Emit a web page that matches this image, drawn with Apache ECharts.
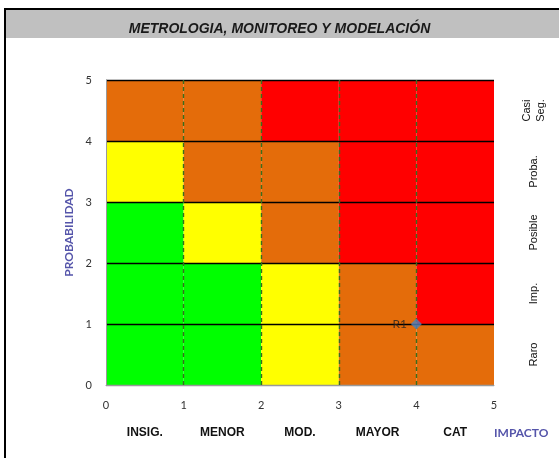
<!DOCTYPE html>
<html><head><meta charset="utf-8">
<script src="https://cdn.jsdelivr.net/npm/echarts@6/dist/echarts.min.js"></script>
<style>html,body{margin:0;padding:0;background:#fff}#c{width:559px;height:458px}</style>
</head><body><div id="c"></div>
<script>
const titleText = 'METROLOGIA, MONITOREO Y MODELACIÓN';
const impactLabels = ['INSIG.', 'MENOR', 'MOD.', 'MAYOR', 'CAT'];
const probLabels = ['Raro', 'Imp.', 'Posible', 'Proba.', 'Casi\nSeg.'];
// rows: probability band 0-1 .. 4-5 ; columns: impact band 0-1 .. 4-5
// 0 = green, 1 = yellow, 2 = orange, 3 = red
const riskMatrix = [
  [0, 0, 1, 2, 2],
  [0, 0, 1, 2, 3],
  [0, 1, 2, 3, 3],
  [1, 2, 2, 3, 3],
  [2, 2, 3, 3, 3]
];
const riskColors = ['#00FF00', '#FFFF00', '#E46C0A', '#FF0000'];
const riskNames = ['R1'];
const riskImpact = [4];
const riskProb = [1];

const cells = [];
riskMatrix.forEach((row, r) => row.forEach((lvl, c) => cells.push([c, r, lvl])));

const chart = echarts.init(document.getElementById('c'), null, {renderer: 'canvas'});
chart.setOption({
  animation: false,
  backgroundColor: '#fff',
  graphic: [
    {type: 'rect', shape: {x: 5, y: 9, width: 600, height: 500}, style: {fill: 'none', stroke: '#000', lineWidth: 2}, z: 0},
    {type: 'rect', shape: {x: 6, y: 10, width: 560, height: 28}, style: {fill: '#C0C0C0', stroke: null}, z: 1},
    {type: 'text', left: 'center', top: 22, style: {text: titleText, font: 'italic bold 14px "Liberation Sans", Arial', fill: '#1a1a1a', textAlign: 'center'}, z: 2}
  ],
  grid: {left: 106, right: 65, top: 80, bottom: 73, containLabel: false},
  xAxis: [
    {type: 'value', min: 0, max: 5, interval: 1, z: 5,
     axisLine: {show: true, lineStyle: {color: '#999', width: 1}},
     axisTick: {show: false},
     axisLabel: {margin: 15, color: '#333', fontSize: 11, fontFamily: 'Lato'},
     splitLine: {show: true, lineStyle: {color: ['transparent', '#3a6e1e', '#3a6e1e', '#3a6e1e', '#3a6e1e', 'transparent'], type: [4, 3], width: 1.4}}
    },
    {type: 'category', data: impactLabels, position: 'bottom', offset: 48, z: 5,
     axisLine: {show: false}, axisTick: {show: false}, splitLine: {show: false},
     axisLabel: {margin: 0, verticalAlign: 'middle', color: '#111', fontSize: 12, fontWeight: 'bold', fontFamily: '"Liberation Sans", Arial'},
     name: 'IMPACTO', nameLocation: 'end', nameGap: 0,
     nameTextStyle: {color: '#5555AA', fontSize: 12, fontWeight: 'bold', fontFamily: 'Lato', verticalAlign: 'middle', align: 'left'}
    }
  ],
  yAxis: [
    {type: 'value', min: 0, max: 5, interval: 1, z: 5,
     axisLine: {show: true, lineStyle: {color: '#999', width: 1}},
     axisTick: {show: false},
     axisLabel: {margin: 14, color: '#333', fontSize: 11, fontFamily: 'Lato'},
     splitLine: {show: true, lineStyle: {color: ['#999', '#000', '#000', '#000', '#000', '#000'], width: 1.3}},
     name: 'PROBABILIDAD', nameLocation: 'middle', nameGap: 27, nameRotate: 90,
     nameTextStyle: {color: '#5555AA', fontSize: 12, fontWeight: 'bold', fontFamily: 'Lato'}
    },
    {type: 'category', data: probLabels, position: 'right', z: 5,
     axisLine: {show: false}, axisTick: {show: false}, splitLine: {show: false},
     axisLabel: {rotate: 90, margin: 40, color: '#111', fontSize: 11, fontFamily: '"Liberation Sans", Arial', lineHeight: 14, align: 'center', verticalAlign: 'middle'}
    }
  ],
  series: [
    {type: 'custom', xAxisIndex: 0, yAxisIndex: 0, z: 1, silent: true,
     data: cells,
     renderItem: function (params, api) {
       const p0 = api.coord([api.value(0), api.value(1) + 1]);
       const p1 = api.coord([api.value(0) + 1, api.value(1)]);
       return {type: 'rect', shape: {x: p0[0], y: p0[1], width: p1[0] - p0[0], height: p1[1] - p0[1]},
               style: {fill: riskColors[api.value(2)], stroke: null}};
     }
    },
    {type: 'scatter', xAxisIndex: 0, yAxisIndex: 0, z: 10, zlevel: 1,
     symbol: 'diamond', symbolSize: 11,
     itemStyle: {color: '#4F81BD'},
     data: riskNames.map((n, i) => ({name: n, value: [riskImpact[i], riskProb[i]]})),
     label: {show: true, position: 'left', distance: 4, formatter: '{b}', color: '#222', fontSize: 12, fontFamily: 'Lato'}
    }
  ]
});
</script></body></html>
